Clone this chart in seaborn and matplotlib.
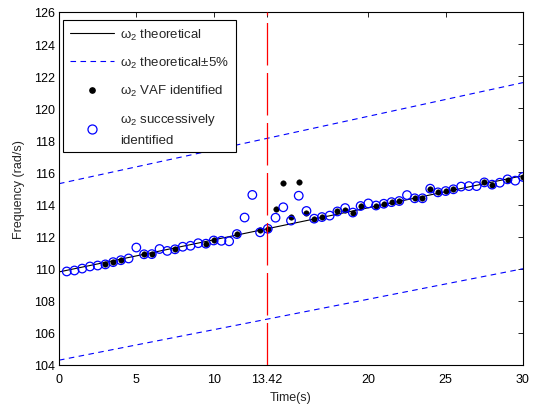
import numpy as np
import pandas as pd
import matplotlib
matplotlib.use("Agg")
import matplotlib.pyplot as plt
import seaborn as sns
from matplotlib.lines import Line2D

# ---------------- data ----------------
theo_t = [0, 30]
theo_w = [109.8, 115.8]
upper_w = [115.3, 121.6]
lower_w = [104.3, 110.0]

succ_t = [0.5, 1.0, 1.5, 2.0, 2.5, 3.0, 3.5, 4.0, 4.5, 5.0,
          5.5, 6.0, 6.5, 7.0, 7.5, 8.0, 8.5, 9.0, 9.5, 10.0,
          10.5, 11.0, 11.5, 12.0, 12.5, 13.0, 13.5, 14.0, 14.5, 15.0,
          15.5, 16.0, 16.5, 17.0, 17.5, 18.0, 18.5, 19.0, 19.5, 20.0,
          20.5, 21.0, 21.5, 22.0, 22.5, 23.0, 23.5, 24.0, 24.5, 25.0,
          25.5, 26.0, 26.5, 27.0, 27.5, 28.0, 28.5, 29.0, 29.5, 30.0]
succ_w = [109.83, 109.89, 110.01, 110.14, 110.20, 110.27, 110.41, 110.53, 110.64, 111.32,
          110.90, 110.91, 111.23, 111.11, 111.21, 111.37, 111.43, 111.59, 111.56, 111.76,
          111.74, 111.71, 112.16, 113.19, 114.60, 112.27, 112.49, 113.18, 113.83, 113.00,
          114.55, 113.60, 113.12, 113.22, 113.31, 113.57, 113.78, 113.50, 113.91, 114.07,
          113.94, 114.05, 114.15, 114.22, 114.59, 114.39, 114.39, 114.99, 114.76, 114.84,
          114.95, 115.12, 115.15, 115.15, 115.38, 115.24, 115.36, 115.57, 115.49, 115.72]

vaf_t = [3.0, 3.5, 4.0, 5.5, 6.0, 7.5, 9.5, 10.0, 11.5, 13.0,
         13.5, 14.0, 14.5, 15.0, 15.5, 16.0, 16.5, 17.0, 18.0, 18.5,
         19.0, 19.5, 20.5, 21.0, 21.5, 22.0, 23.0, 23.5, 24.0, 24.5,
         25.0, 25.5, 27.5, 28.0, 29.0, 30.0]
vaf_w = [110.27, 110.40, 110.53, 110.90, 110.91, 111.21, 111.56, 111.77, 112.16, 112.42,
         112.49, 113.74, 115.34, 113.22, 115.43, 113.45, 113.12, 113.22, 113.57, 113.66,
         113.50, 113.91, 113.94, 114.05, 114.15, 114.22, 114.39, 114.39, 114.97, 114.76,
         114.84, 114.95, 115.38, 115.24, 115.50, 115.72]

event_t = 13.42
xticks = [0, 5, 10, 13.42, 20, 25, 30]
xticklabels = ["0", "5", "10", "13.42", "20", "25", "30"]
yticks = [104, 106, 108, 110, 112, 114, 116, 118, 120, 122, 124, 126]

# ---------------- style ----------------
sns.set_style("white")
plt.rcParams["font.family"] = ["Liberation Sans", "DejaVu Sans"]
plt.rcParams["mathtext.fontset"] = "custom"
plt.rcParams["mathtext.rm"] = "Liberation Sans"
plt.rcParams["mathtext.it"] = "Liberation Sans"
plt.rcParams["font.size"] = 9

fig = plt.figure(figsize=(5.33, 4.14), dpi=100)
ax = fig.add_axes([59 / 533, 1 - 366 / 414, 464 / 533, 353 / 414])

df_theo = pd.DataFrame({"t": theo_t, "w": theo_w, "up": upper_w, "lo": lower_w})
df_succ = pd.DataFrame({"t": succ_t, "w": succ_w})
df_vaf = pd.DataFrame({"t": vaf_t, "w": vaf_w})

sns.lineplot(data=df_theo, x="t", y="w", ax=ax, color="black", lw=0.8)
sns.lineplot(data=df_theo, x="t", y="up", ax=ax, color="blue", lw=0.8)
sns.lineplot(data=df_theo, x="t", y="lo", ax=ax, color="blue", lw=0.8)
for ln in ax.get_lines()[1:3]:
    ln.set_dashes((5, 4))

sns.scatterplot(data=df_vaf, x="t", y="w", ax=ax, color="black", s=16,
                edgecolor="black", linewidth=0.3, zorder=3)
sns.scatterplot(data=df_succ, x="t", y="w", ax=ax, marker="o", s=38,
                facecolor="none", edgecolor="blue", linewidth=0.9, zorder=4)

ax.axvline(event_t, color="#ff0000", lw=0.9, dashes=(34, 6), zorder=5)

ax.set_xlim(0, 30)
ax.set_ylim(104, 126)
ax.set_xticks(xticks)
ax.set_xticklabels(xticklabels)
ax.set_yticks(yticks)
ax.tick_params(direction="in", length=3.5, width=0.6, top=True, right=True,
               labelsize=9, colors="black")
ax.tick_params(axis="x", pad=6)
ax.tick_params(axis="y", pad=3)
for sp in ax.spines.values():
    sp.set_visible(True)
    sp.set_color("black")
    sp.set_linewidth(0.8)
ax.set_xlabel("Time(s)", fontsize=9, labelpad=4)
ax.set_ylabel("Frequency (rad/s)", fontsize=9, labelpad=6)

handles = [
    Line2D([], [], color="black", lw=0.8),
    Line2D([], [], color="blue", lw=0.8, dashes=(5, 4)),
    Line2D([], [], color="black", marker="o", ms=3.8, ls=""),
    Line2D([], [], color="blue", marker="o", ms=6.5, mfc="none", mew=0.9, ls=""),
]
labels = [
    r"$\mathregular{\omega_2}$ theoretical",
    r"$\mathregular{\omega_2}$ theoretical$\pm$5%",
    r"$\mathregular{\omega_2}$ VAF identified",
    r"$\mathregular{\omega_2}$ successively" + "\nidentified",
]
leg = ax.legend(handles, labels, loc="upper left", fontsize=9.5,
                bbox_to_anchor=(4 / 464, 1 - 8 / 353),
                frameon=True, fancybox=False, edgecolor="black",
                handlelength=3.4, labelspacing=1.0, borderpad=0.5,
                handletextpad=0.45, borderaxespad=0.0)
leg.get_frame().set_linewidth(0.8)
leg.get_frame().set_alpha(1)
for txt in leg.get_texts():
    txt.set_linespacing(1.7)

fig.savefig("out.png", dpi=100)
